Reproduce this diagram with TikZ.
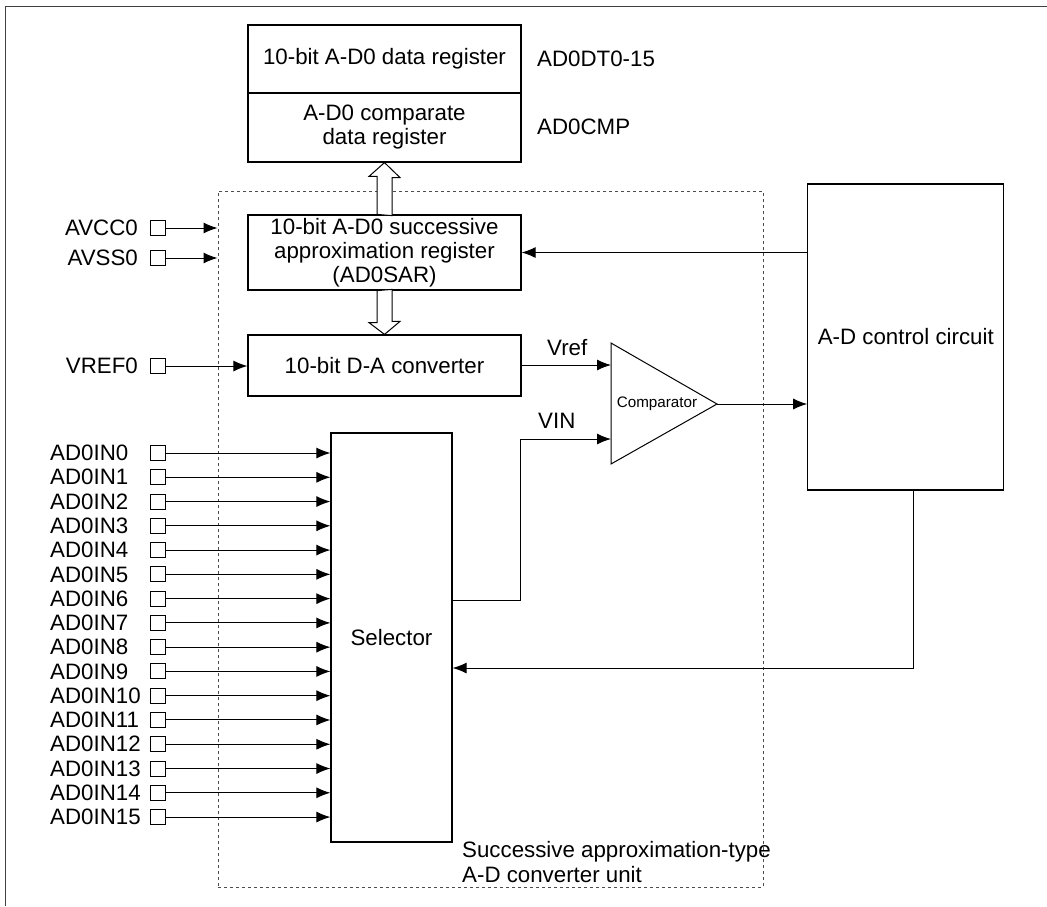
\documentclass[tikz,border=0pt]{standalone}
\usepackage{fontspec}
\setmainfont{Liberation Sans}
\usetikzlibrary{calc,arrows.meta}

\tikzset{
  blk/.style={draw, line width=1.2pt, inner sep=0pt, align=center},
  pinbox/.style={draw, line width=1pt, minimum size=15pt, inner sep=0pt},
  txt/.style={inner sep=0pt},
  sig/.style={line width=1pt, -{Latex[length=14pt,width=11pt]}},
  hollow/.style={draw, line width=1pt, fill=white},
}

\begin{document}
\begin{tikzpicture}[x=1pt, y=-1pt, font=\fontsize{22.3}{24}\selectfont]
  \useasboundingbox (0,0) rectangle (1047,906);
  % outer frame
  \draw[line width=1pt, black!75] (1047,6) -- (5,6) -- (5,906);

  % converter unit (dotted)
  \node[draw, black!70, line width=1pt, dash pattern=on 3pt off 3pt,
        minimum width=545pt, minimum height=696pt, inner sep=0pt] (unit) at (490.5,539) {};
  \node[txt, anchor=west, align=left, font=\fontsize{22.3}{25}\selectfont] (unittxt)
        at (462,862.5) {Successive approximation-type\\A-D converter unit};

  % registers and blocks
  \node[blk, minimum width=273pt, minimum height=68pt] (dtreg) at (384.5,59) {10-bit A-D0 data register};
  \node[blk, minimum width=273pt, minimum height=69pt] (cmpreg) at (384.5,127.5) {A-D0 comparate\\data register};
  \node[txt, anchor=west] (dtname) at (537,59) {AD0DT0-15};
  \node[txt, anchor=west] (cmpname) at (537,127) {AD0CMP};

  \node[blk, minimum width=273pt, minimum height=75pt] (sar) at (384.5,252.5)
        {10-bit A-D0 successive\\approximation register\\(AD0SAR)};
  \node[blk, minimum width=273pt, minimum height=61pt] (dac) at (384.5,365.5) {10-bit D-A converter};
  \node[blk, minimum width=121pt, minimum height=409pt] (sel) at (391.5,637.5) {Selector};
  \node[blk, minimum width=196pt, minimum height=306pt] (ctrl) at (905.8,337) {A-D control circuit};

  % comparator
  \coordinate (cmpa) at (611,365);
  \coordinate (cmpb) at (611,439);
  \coordinate (cmpo) at (717,404);
  \draw[line width=1pt] (611,343) -- (611,464) -- (cmpo) -- cycle;
  \node[txt, font=\fontsize{15.2}{17}\selectfont] (cmp) at (657,404) {Comparator};

  % hollow bus arrows
  \draw[hollow] ($(sar.north)+(-7.5,0)$) -- ++(0,-38) -- ++(-8,0) -- (cmpreg.south)
        -- ++(15.5,15) -- ++(-8,0) -- ++(0,38) -- cycle;
  \draw[hollow] ($(sar.south)+(-7.5,0)$) -- ++(0,32) -- ++(-8,0) -- (dac.north)
        -- ++(15.5,-13) -- ++(-8,0) -- ++(0,-32) -- cycle;

  % supply and reference pins
  \foreach \nm/\y in {AVCC0/228, AVSS0/258, VREF0/366} {
    \node[pinbox] (p\nm) at (158,\y) {};
    \node[txt, anchor=east] (l\nm) at (138,\y) {\nm};
  }
  \draw[sig] (pAVCC0) -- (unit.west |- pAVCC0);
  \draw[sig] (pAVSS0) -- (unit.west |- pAVSS0);
  \draw[sig] (pVREF0) -- (dac.west |- pVREF0);

  % analog inputs
  \foreach \i in {0,...,15} {
    \node[pinbox] (in\i) at (158,453+24.27*\i) {};
    \node[txt, anchor=west] (lin\i) at (50,453+24.27*\i) {AD0IN\i};
    \draw[sig] (in\i) -- (sel.west |- in\i);
  }

  % comparator inputs and outputs
  \draw[sig] (dac.east |- cmpa) -- (cmpa);
  \node[txt, anchor=west] (vref) at (547,348) {Vref};
  \coordinate (vinbend) at (520,600);
  \draw[sig] (sel.east |- vinbend) -- (vinbend) |- (cmpb);
  \node[txt, anchor=west] (vin) at (538,421) {VIN};
  \draw[sig] (cmpo) -- (ctrl.west |- cmpo);

  % control feedback
  \draw[sig] (ctrl.west |- sar.east) -- (sar.east);
  \coordinate (fbk) at (913,668);
  \draw[sig] (ctrl.south -| fbk) |- (sel.east |- fbk);
\end{tikzpicture}
\end{document}
